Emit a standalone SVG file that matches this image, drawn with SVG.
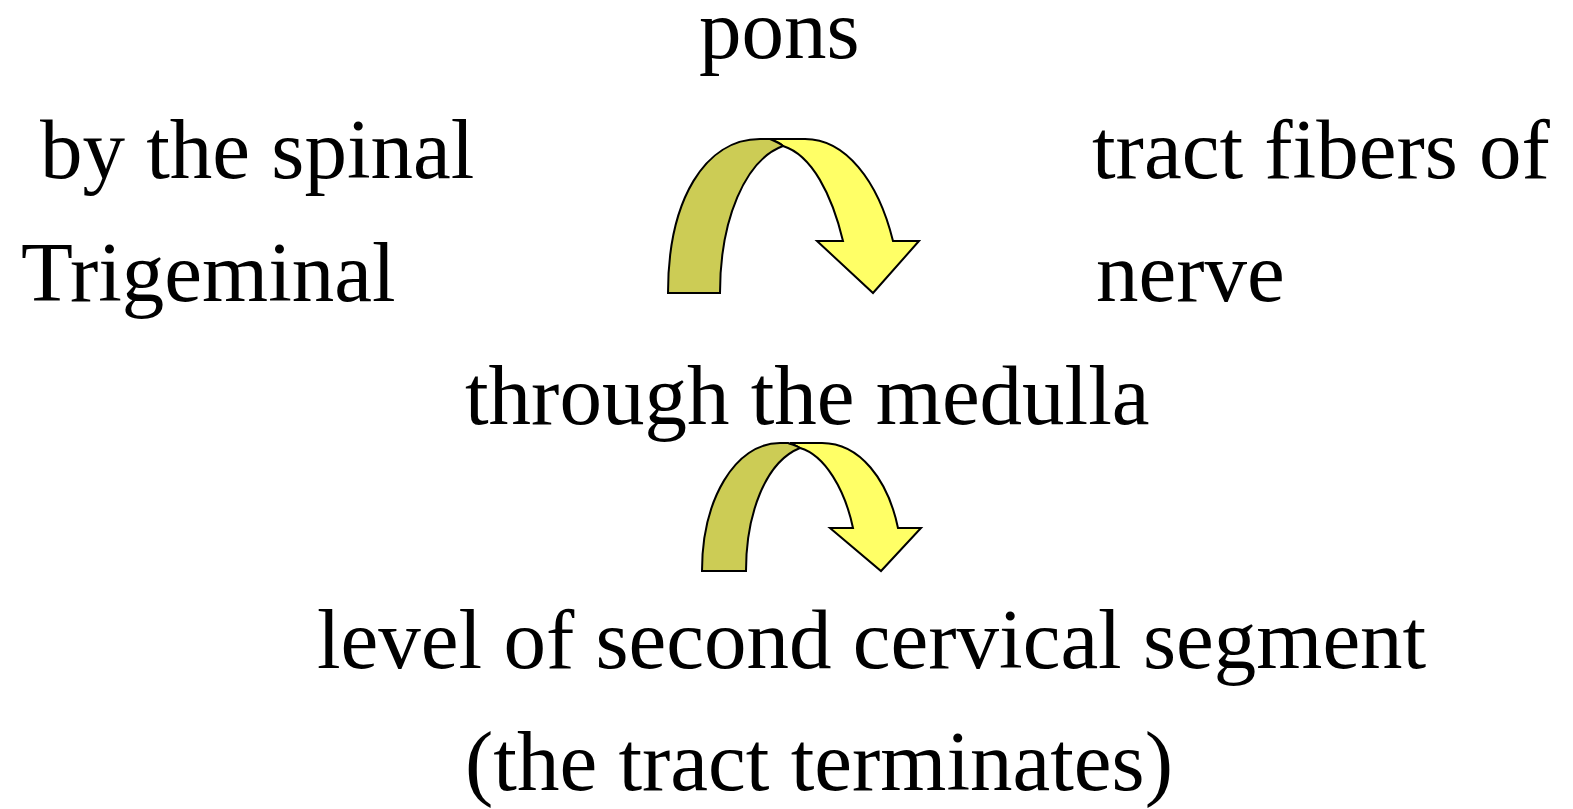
<svg xmlns="http://www.w3.org/2000/svg" width="1573" height="809" viewBox="0 0 1573 809">
<style>
text { font-family: "Liberation Serif", "Times New Roman", serif; font-size: 85px; fill: #000; }
.dark { fill: #cccc55; stroke: #000; stroke-width: 2; stroke-linejoin: miter; }
.light { fill: #ffff66; stroke: #000; stroke-width: 2; stroke-linejoin: miter; }
</style>
<rect width="1573" height="809" fill="#fff"/>
<g id="labels">
<g id="n-pons"><text x="699" y="58">pons</text></g>
<g id="n-spinal"><text x="40" y="178">by the spinal</text></g>
<g id="n-trigeminal"><text x="21" y="301">Trigeminal</text></g>
<g id="n-tract"><text x="1092" y="178">tract fibers of</text></g>
<g id="n-nerve"><text x="1096" y="301">nerve</text></g>
<g id="n-medulla"><text x="465" y="424">through the medulla</text></g>
<g id="n-level"><text x="317" y="668">level of second cervical segment</text></g>
<g id="n-terminates"><text x="465" y="790">(the tract terminates)</text></g>
</g>
<g id="connectors">
<g id="arrow1">
<path class="light" d="M768,139 L805,139 C845,139 878,180 893,241 L919,241 L873,293 L817,241 L843,241 C832,195 812,155 783,146 C779,143 774,140 768,139 Z"/>
<path class="dark" d="M668,293 C668,200 705,139 760,139 L770,139 C775,141 780,143 783,146 C745,160 720,220 720,293 Z"/>
</g>
<g id="arrow2">
<path class="light" d="M790,443 L822,443 C860,443 888,480 898,528 L921,528 L881,571 L830,528 L853,528 C845,490 825,455 800,448 C796,446 793,444 790,443 Z"/>
<path class="dark" d="M702,571 C702,500 735,443 780,443 L788,443 C793,445 797,446 800,448 C765,462 746,515 746,571 Z"/>
</g>
</g>
</svg>
